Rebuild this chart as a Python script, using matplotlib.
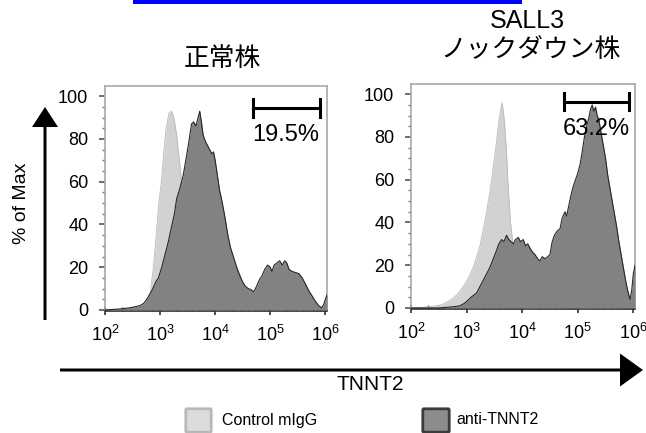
import matplotlib
matplotlib.use("Agg")
import matplotlib.pyplot as plt
import matplotlib.patches as mpatches
from matplotlib.ticker import LogLocator, MultipleLocator, AutoMinorLocator
import numpy as np

plt.rcParams["font.family"] = ["Liberation Sans", "Noto Sans CJK JP"]

# ── Data ──────────────────────────────────────────────────────────────────────
panel_titles = ["正常株", "SALL3\nノックダウン株"]
gate_pct = ["19.5%", "63.2%"]
gate_lo = [10**4.68, 10**4.75]
gate_hi = [10**5.90, 10**5.92]
gate_y = [94.5, 96.5]

# log10(TNNT2 intensity), % of max
normal_ctrl_log = [2.0, 2.3, 2.5, 2.65, 2.75, 2.82, 2.87, 2.92, 2.97, 3.03, 3.07, 3.11,
                   3.16, 3.21, 3.25, 3.30, 3.35, 3.39, 3.45, 3.55, 3.65, 3.8, 3.95, 4.1,
                   4.3, 4.6, 5.0, 6.03]
normal_ctrl_val = [0, 0.3, 0.8, 1.5, 3, 8, 18, 32, 48, 62, 75, 85,
                   92, 93, 90, 82, 70, 60, 48, 35, 22, 12, 6, 3,
                   1, 0.5, 0.3, 0]

normal_anti_log = [2.0, 2.3, 2.45, 2.55, 2.63, 2.7, 2.76, 2.85, 2.92, 2.97, 3.03, 3.1,
                   3.15, 3.2, 3.26, 3.3, 3.36, 3.42, 3.48, 3.53, 3.57, 3.61, 3.65, 3.69,
                   3.72, 3.75, 3.78, 3.82, 3.86, 3.9, 3.94, 3.97, 4.0, 4.04, 4.08, 4.13,
                   4.18, 4.23, 4.28, 4.33, 4.39, 4.45, 4.5, 4.55, 4.6, 4.65, 4.7, 4.75,
                   4.8, 4.85, 4.9, 4.95, 5.0, 5.03, 5.07, 5.12, 5.17, 5.22, 5.26, 5.3,
                   5.34, 5.4, 5.46, 5.52, 5.58, 5.64, 5.7, 5.76, 5.82, 5.88, 5.93, 5.97,
                   6.0, 6.03]
normal_anti_val = [0, 0.5, 1, 1.5, 2, 3, 5, 9, 13, 15, 20, 27,
                   32, 38, 45, 52, 57, 63, 72, 80, 87, 88, 86, 90,
                   93, 88, 82, 79, 77, 75, 73, 74, 70, 63, 56, 50,
                   43, 35, 29, 25, 20, 16, 13, 11, 10, 9.5, 8.5, 11,
                   14, 16, 19, 21, 20, 18, 21, 22, 23, 21, 23, 22,
                   19, 18, 17.5, 17, 15, 12, 9, 6.5, 4, 2, 1, 2.5,
                   5, 7]

kd_ctrl_log = [2.0, 2.2, 2.4, 2.55, 2.7, 2.82, 2.94, 3.03, 3.12, 3.18, 3.24, 3.3,
               3.36, 3.41, 3.45, 3.49, 3.53, 3.56, 3.59, 3.62, 3.64, 3.67, 3.69, 3.72,
               3.74, 3.77, 3.79, 3.82, 3.86, 3.92, 4.0, 4.1, 4.25, 4.5, 5.0, 6.03]
kd_ctrl_val = [0, 0.3, 0.8, 1.5, 3.5, 6, 10, 14, 19, 24, 29, 37,
               45, 53, 60, 68, 76, 83, 89, 94, 96, 90, 84, 72,
               60, 48, 40, 33, 25, 18, 12, 7, 3, 1, 0.5, 0]

kd_anti_log = [2.0, 2.5, 2.75, 2.88, 2.95, 3.0, 3.08, 3.18, 3.24, 3.3, 3.36, 3.42,
               3.48, 3.54, 3.58, 3.63, 3.67, 3.72, 3.76, 3.8, 3.84, 3.88, 3.93, 3.97,
               4.02, 4.06, 4.1, 4.14, 4.19, 4.23, 4.28, 4.32, 4.36, 4.41, 4.46, 4.5,
               4.54, 4.58, 4.63, 4.68, 4.72, 4.77, 4.8, 4.84, 4.88, 4.92, 4.96, 5.0,
               5.04, 5.08, 5.12, 5.16, 5.2, 5.23, 5.26, 5.29, 5.32, 5.35, 5.38, 5.42,
               5.46, 5.5, 5.54, 5.58, 5.62, 5.66, 5.7, 5.74, 5.78, 5.82, 5.86, 5.9,
               5.94, 5.97, 6.0, 6.03]
kd_anti_val = [0, 0, 0.5, 1, 2, 3, 5, 7, 10, 13, 16, 19,
               23, 27, 30, 32, 31, 34, 32, 31, 30, 32, 33, 31,
               32, 29, 30, 28, 26, 25, 23, 22, 24, 23, 24, 25,
               31, 34, 36, 37, 42, 45, 43, 48, 53, 57, 60, 63,
               67, 73, 80, 85, 89, 93, 95, 92, 94, 90, 88, 82,
               76, 70, 62, 56, 50, 44, 38, 31, 25, 19, 13, 8,
               4, 8, 16, 20]

panels = [
    (normal_ctrl_log, normal_ctrl_val, normal_anti_log, normal_anti_val),
    (kd_ctrl_log, kd_ctrl_val, kd_anti_log, kd_anti_val),
]

CTRL_FILL = "#d2d2d2"
CTRL_EDGE = "#b8b8b8"
ANTI_FILL = "#828282"
ANTI_EDGE = "#262626"
FRAME = "#a8a8a8"

# ── Figure ────────────────────────────────────────────────────────────────────
W, H = 646, 433
fig = plt.figure(figsize=(W / 100, H / 100), dpi=100)

# axes boxes in pixels: left, top, right, bottom
boxes = [(105, 86, 327, 311), (411, 84, 635, 309)]

for i, (box, data) in enumerate(zip(boxes, panels)):
    l, t, r, b = box
    ax = fig.add_axes([l / W, 1 - b / H, (r - l) / W, (b - t) / H])
    c_log, c_val, a_log, a_val = data
    cx = 10 ** np.array(c_log)
    ax_ = 10 ** np.array(a_log)
    ax.fill_between(cx, 0, c_val, color=CTRL_FILL, lw=0, zorder=2)
    ax.plot(cx, c_val, color=CTRL_EDGE, lw=0.6, zorder=2)
    ax.fill_between(ax_, 0, a_val, color=ANTI_FILL, lw=0, zorder=3)
    ax.plot(ax_, a_val, color=ANTI_EDGE, lw=0.8, zorder=4)

    ax.set_xscale("log")
    ax.set_xlim(1e2, 10**6.03)
    ax.set_ylim(-0.5, 104.8)
    ax.xaxis.set_major_locator(LogLocator(base=10, numticks=10))
    ax.xaxis.set_minor_locator(LogLocator(base=10, subs=np.arange(2, 10), numticks=20))
    ax.yaxis.set_major_locator(MultipleLocator(20))
    ax.yaxis.set_minor_locator(AutoMinorLocator(4))

    for side in ["top", "right", "left"]:
        ax.spines[side].set_color(FRAME)
        ax.spines[side].set_linewidth(1.2)
    ax.spines["bottom"].set_color("#303030")
    ax.spines["bottom"].set_linewidth(1.2)

    ax.tick_params(axis="y", which="major", length=4, width=1.2, color="#555555",
                   labelsize=13, pad=8)
    ax.tick_params(axis="y", which="minor", length=2.5, width=1, color="#777777")
    ax.tick_params(axis="x", which="major", direction="inout", length=6, width=1.2,
                   color="#303030", labelsize=13, pad=7)
    ax.tick_params(axis="x", which="minor", direction="in", length=3, width=1,
                   color="#303030")

    # gate bar
    ax.plot([gate_lo[i], gate_hi[i]], [gate_y[i], gate_y[i]], color="black", lw=2.2,
            zorder=5)
    for gx in (gate_lo[i], gate_hi[i]):
        ax.plot([gx, gx], [gate_y[i] - 4, gate_y[i] + 4], color="black", lw=2.2, zorder=5)
    ax.text(np.sqrt(gate_lo[i] * gate_hi[i]), gate_y[i] - 7.5, gate_pct[i],
            ha="center", va="top", fontsize=17, zorder=6)

# ── Overlay: arrows, titles, labels, legend ───────────────────────────────────
ov = fig.add_axes([0, 0, 1, 1], facecolor="none")
ov.set_xlim(0, W)
ov.set_ylim(H, 0)
ov.axis("off")

ov.add_patch(mpatches.Rectangle((133, 0), 389, 4, color="#0000ff", lw=0))

ov.text(222, 59, panel_titles[0], ha="center", va="center", fontsize=18.5,
        family=["Noto Sans CJK JP"])
ov.text(527, 21, "SALL3", ha="center", va="center", fontsize=18)
ov.text(531, 50, "ノックダウン株", ha="center", va="center", fontsize=18.5,
        family=["Noto Sans CJK JP"])

ov.add_patch(mpatches.FancyArrow(45, 320, 0, -213, width=3, head_width=26,
                                 head_length=20, length_includes_head=True,
                                 color="black", lw=0))
ov.text(22, 203, "% of Max", rotation=90, ha="center", va="center", fontsize=14)

ov.add_patch(mpatches.FancyArrow(60, 370, 583, 0, width=3, head_width=33,
                                 head_length=23, length_includes_head=True,
                                 color="black", lw=0))
ov.text(370, 385, "TNNT2", ha="center", va="center", fontsize=15)

# legend
ov.add_patch(mpatches.FancyBboxPatch((187, 410), 23, 21, boxstyle="round,pad=1.2",
                                     facecolor="#dcdcdc", edgecolor="#b8b8b8", lw=2))
ov.text(222, 420, "Control mIgG", ha="left", va="center", fontsize=11.5)
ov.add_patch(mpatches.FancyBboxPatch((424, 410), 24, 21, boxstyle="round,pad=1.2",
                                     facecolor="#8c8c8c", edgecolor="#3c3c3c", lw=2))
ov.text(456, 420, "anti-TNNT2", ha="left", va="center", fontsize=11.5)

fig.savefig("out.png", dpi=100)
